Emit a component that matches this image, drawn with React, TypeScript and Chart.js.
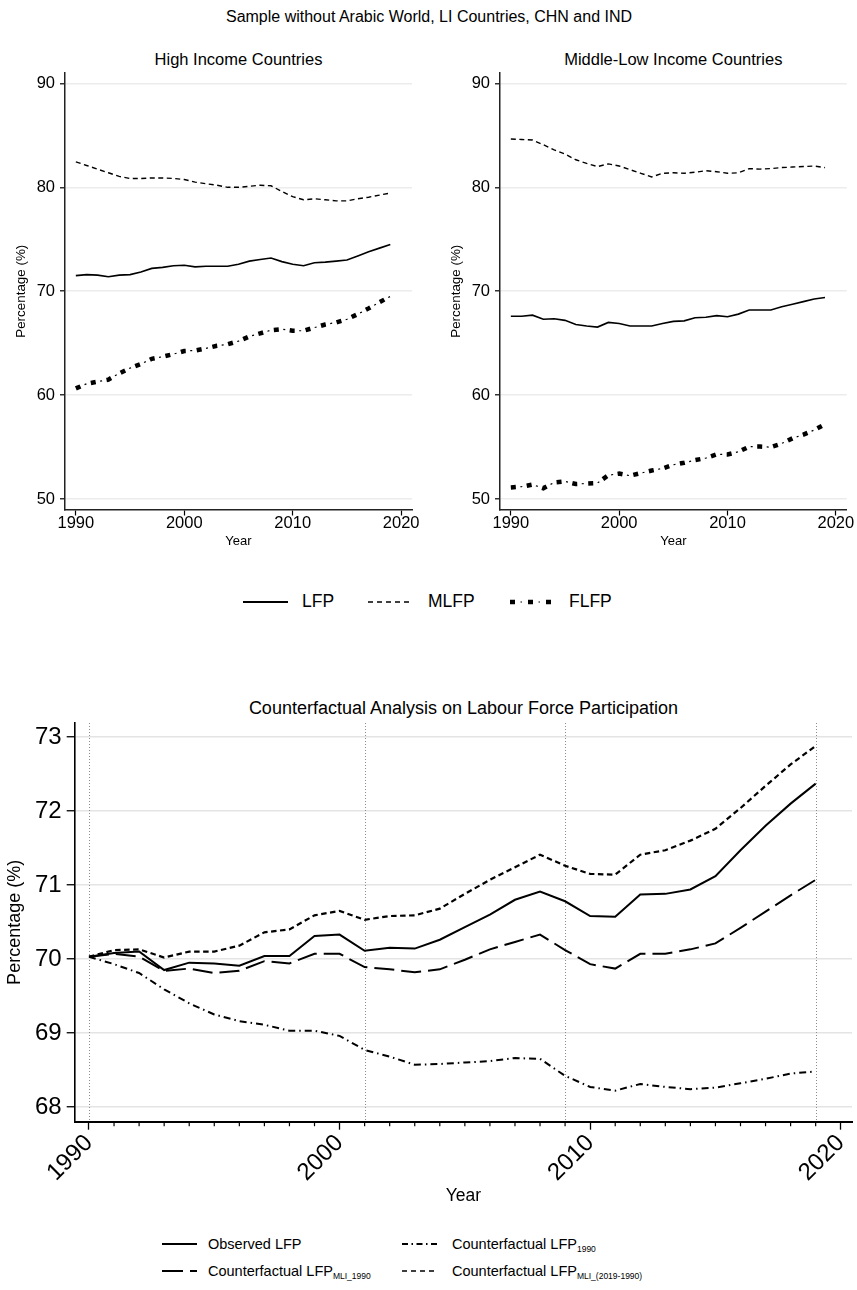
import React, { useEffect, useRef } from "react";
import { Chart, registerables } from "chart.js";
Chart.register(...registerables);

const FONT = "'Liberation Sans', Arial, Helvetica, sans-serif";

const years = [1990, 1991, 1992, 1993, 1994, 1995, 1996, 1997, 1998, 1999, 2000, 2001, 2002, 2003, 2004, 2005, 2006, 2007, 2008, 2009, 2010, 2011, 2012, 2013, 2014, 2015, 2016, 2017, 2018, 2019];

// High income countries
const hicLFP = [71.5, 71.6, 71.55, 71.4, 71.55, 71.6, 71.85, 72.2, 72.3, 72.45, 72.5, 72.35, 72.4, 72.4, 72.4, 72.6, 72.9, 73.05, 73.2, 72.85, 72.6, 72.45, 72.75, 72.8, 72.9, 73.0, 73.4, 73.8, 74.15, 74.5];
const hicMLFP = [82.45, 82.1, 81.75, 81.4, 81.05, 80.85, 80.85, 80.9, 80.9, 80.85, 80.75, 80.5, 80.35, 80.2, 80.0, 80.0, 80.1, 80.2, 80.15, 79.6, 79.1, 78.8, 78.9, 78.8, 78.7, 78.7, 78.9, 79.05, 79.25, 79.45];
const hicFLFP = [60.65, 61.1, 61.3, 61.5, 62.1, 62.6, 63.0, 63.5, 63.7, 63.95, 64.25, 64.3, 64.5, 64.75, 64.9, 65.2, 65.65, 65.95, 66.25, 66.35, 66.2, 66.2, 66.5, 66.8, 67.0, 67.3, 67.8, 68.35, 68.95, 69.5];

// Middle-low income countries
const mlicLFP = [67.6, 67.6, 67.7, 67.3, 67.35, 67.2, 66.8, 66.65, 66.55, 67.0, 66.9, 66.65, 66.65, 66.65, 66.9, 67.1, 67.15, 67.45, 67.5, 67.65, 67.55, 67.8, 68.2, 68.2, 68.2, 68.5, 68.75, 69.0, 69.25, 69.4];
const mlicMLFP = [84.65, 84.6, 84.55, 84.1, 83.6, 83.2, 82.65, 82.3, 82.0, 82.25, 82.05, 81.7, 81.35, 81.0, 81.35, 81.4, 81.35, 81.45, 81.6, 81.5, 81.35, 81.4, 81.8, 81.75, 81.8, 81.9, 81.95, 82.0, 82.05, 81.9];
const mlicFLFP = [51.12, 51.2, 51.4, 51.05, 51.6, 51.7, 51.45, 51.5, 51.55, 52.3, 52.45, 52.25, 52.5, 52.75, 52.95, 53.3, 53.5, 53.75, 53.95, 54.3, 54.3, 54.55, 55.05, 55.05, 55.0, 55.35, 55.85, 56.2, 56.65, 57.2];

// Counterfactual analysis
const observedLFP = [70.03, 70.08, 70.1, 69.85, 69.95, 69.94, 69.91, 70.04, 70.04, 70.31, 70.33, 70.11, 70.15, 70.14, 70.26, 70.43, 70.6, 70.8, 70.91, 70.78, 70.58, 70.57, 70.87, 70.88, 70.94, 71.12, 71.47, 71.8, 72.1, 72.37];
const cfLFP1990 = [70.03, 69.93, 69.81, 69.59, 69.4, 69.25, 69.16, 69.11, 69.03, 69.03, 68.96, 68.77, 68.68, 68.57, 68.58, 68.6, 68.62, 68.66, 68.65, 68.42, 68.27, 68.22, 68.31, 68.27, 68.24, 68.26, 68.32, 68.38, 68.45, 68.48];
const cfMLI1990 = [70.03, 70.07, 70.03, 69.84, 69.87, 69.81, 69.84, 69.97, 69.94, 70.07, 70.07, 69.89, 69.86, 69.82, 69.86, 69.99, 70.13, 70.23, 70.33, 70.12, 69.93, 69.87, 70.07, 70.07, 70.13, 70.21, 70.42, 70.64, 70.86, 71.07];
const cfMLIRange = [70.03, 70.12, 70.13, 70.02, 70.1, 70.1, 70.18, 70.36, 70.4, 70.59, 70.65, 70.53, 70.58, 70.59, 70.68, 70.88, 71.07, 71.24, 71.41, 71.26, 71.15, 71.14, 71.41, 71.47, 71.6, 71.76, 72.04, 72.34, 72.63, 72.88];

const topXTicks = [1990, 2000, 2010, 2020];
const topYTicks = [50, 60, 70, 80, 90];
const bottomXTicks = [1990, 1991, 1992, 1993, 1994, 1995, 1996, 1997, 1998, 1999, 2000, 2001, 2002, 2003, 2004, 2005, 2006, 2007, 2008, 2009, 2010, 2011, 2012, 2013, 2014, 2015, 2016, 2017, 2018, 2019, 2020];
const bottomYTicks = [68, 69, 70, 71, 72, 73];
const markerYears = [1990, 2001, 2009, 2019];

const pts = (vals: number[]) => years.map((x, i) => ({ x, y: vals[i] }));

const lineDs = (vals: number[], width: number, dash: number[], offset = 0) => ({
  data: pts(vals),
  borderColor: "#000",
  backgroundColor: "#000",
  borderWidth: width,
  borderDash: dash,
  borderDashOffset: offset,
  pointRadius: 0,
  tension: 0,
  fill: false,
});

const noPad = (s: any) => {
  s.paddingTop = 0;
  s.paddingBottom = 0;
  s.paddingLeft = 0;
  s.paddingRight = 0;
};

function Panel(props: { left: number; top: number; width: number; height: number; padRight: number; lfp: number[]; mlfp: number[]; flfp: number[] }) {
  const ref = useRef<HTMLCanvasElement>(null);
  useEffect(() => {
    const chart = new Chart(ref.current as HTMLCanvasElement, {
      type: "line",
      data: {
        datasets: [
          lineDs(props.lfp, 1.6, []),
          lineDs(props.mlfp, 1.4, [5, 3.5]),
          lineDs(props.flfp, 4.5, [5, 11]),
          lineDs(props.flfp, 1.2, [2, 14], 6.5),
        ] as any,
      },
      options: {
        responsive: false,
        animation: false,
        devicePixelRatio: 1,
        layout: { padding: { left: 0, top: 13, right: props.padRight, bottom: 0 } },
        plugins: { legend: { display: false }, tooltip: { enabled: false }, title: { display: false } },
        scales: {
          x: {
            type: "linear",
            min: 1989,
            max: 2021,
            afterBuildTicks: (s: any) => { s.ticks = topXTicks.map((v) => ({ value: v })); },
            afterFit: (s: any) => { s.height = 40.5; noPad(s); },
            grid: { drawOnChartArea: false, tickLength: 6, tickColor: "#000", tickWidth: 1.2 },
            border: { color: "#222", width: 1.5 },
            ticks: { autoSkip: false, maxRotation: 0, minRotation: 0, padding: 0, color: "#000", font: { family: FONT, size: 16.5, lineHeight: 1 }, callback: (v: any) => String(v) },
            title: { display: true, text: "Year", color: "#000", font: { family: FONT, size: 13 }, padding: { top: 0, bottom: 1.2 } },
          },
          y: {
            type: "linear",
            min: 49,
            max: 91,
            afterBuildTicks: (s: any) => { s.ticks = topYTicks.map((v) => ({ value: v })); },
            afterFit: (s: any) => { s.width = 65; noPad(s); },
            grid: { color: "#ececec", lineWidth: 1.6, tickLength: 5, tickColor: "#000", tickWidth: 1.2 },
            border: { color: "#222", width: 1.5 },
            ticks: { padding: 5, color: "#000", font: { family: FONT, size: 16.5, lineHeight: 1 }, callback: (v: any) => String(v) },
            title: { display: true, text: "Percentage (%)", color: "#000", font: { family: FONT, size: 13.4 }, padding: { top: 13.5, bottom: 0 } },
          },
        },
      } as any,
    });
    return () => chart.destroy();
  }, []);
  return <canvas ref={ref} width={props.width} height={props.height} style={{ position: "absolute", left: props.left, top: props.top, width: props.width, height: props.height }} />;
}

const decorPlugin = {
  id: "decor",
  beforeDatasetsDraw(chart: any) {
    const { ctx, chartArea } = chart;
    const x = chart.scales.x;
    ctx.save();
    ctx.strokeStyle = "#8c8c8c";
    ctx.lineWidth = 1;
    ctx.setLineDash([1, 2]);
    ctx.beginPath();
    for (const yr of markerYears) {
      const px = Math.round(x.getPixelForValue(yr)) + 0.5;
      ctx.moveTo(px, chartArea.top);
      ctx.lineTo(px, chartArea.bottom);
    }
    ctx.stroke();
    ctx.restore();
  },
  afterDraw(chart: any) {
    const { ctx } = chart;
    const x = chart.scales.x;
    ctx.save();
    ctx.strokeStyle = "#000";
    ctx.lineWidth = 1.2;
    ctx.beginPath();
    for (const t of x.ticks) {
      if (t.value % 10 === 0) continue;
      const px = x.getPixelForValue(t.value);
      ctx.moveTo(px, x.top);
      ctx.lineTo(px, x.top + 4.5);
    }
    ctx.stroke();
    ctx.restore();
  },
};

function Counterfactual() {
  const ref = useRef<HTMLCanvasElement>(null);
  useEffect(() => {
    const chart = new Chart(ref.current as HTMLCanvasElement, {
      type: "line",
      data: {
        datasets: [
          lineDs(cfLFP1990, 2, [7, 4, 1.5, 4]),
          lineDs(cfMLI1990, 2, [20, 7]),
          lineDs(cfMLIRange, 2.2, [5.5, 3.5]),
          lineDs(observedLFP, 2, []),
        ] as any,
      },
      options: {
        responsive: false,
        animation: false,
        devicePixelRatio: 1,
        layout: { padding: { left: 0, top: 8, right: 5, bottom: 0 } },
        plugins: { legend: { display: false }, tooltip: { enabled: false }, title: { display: false } },
        scales: {
          x: {
            type: "linear",
            min: 1989.43,
            max: 2020.45,
            afterBuildTicks: (s: any) => { s.ticks = bottomXTicks.map((v) => ({ value: v })); },
            afterFit: (s: any) => { s.height = 88.3; noPad(s); },
            grid: {
              drawOnChartArea: false,
              tickLength: 8,
              tickWidth: 1.3,
              tickColor: (c: any) => (c.tick && c.tick.value % 10 === 0 ? "#000" : "rgba(0,0,0,0)"),
            },
            border: { color: "#000", width: 2 },
            ticks: {
              autoSkip: false,
              maxRotation: 45,
              minRotation: 45,
              padding: 1,
              color: "#000",
              font: { family: FONT, size: 24, lineHeight: 1 },
              callback: (v: any) => (Number(v) % 10 === 0 ? String(v) : ""),
            },
            title: { display: true, text: "Year", color: "#000", font: { family: FONT, size: 17.5 }, padding: { top: 0, bottom: 3.5 } },
          },
          y: {
            type: "linear",
            min: 67.8,
            max: 73.19,
            afterBuildTicks: (s: any) => { s.ticks = bottomYTicks.map((v) => ({ value: v })); },
            afterFit: (s: any) => { s.width = 74.7; noPad(s); },
            grid: { color: "#e4e4e4", lineWidth: 1.5, tickLength: 8, tickColor: "#000", tickWidth: 1.3 },
            border: { color: "#000", width: 1.6 },
            ticks: { padding: 5, color: "#000", font: { family: FONT, size: 24, lineHeight: 1 }, callback: (v: any) => String(v) },
            title: { display: true, text: "Percentage (%)", color: "#000", font: { family: FONT, size: 18 }, padding: { top: 4.2, bottom: 0 } },
          },
        },
      } as any,
      plugins: [decorPlugin as any],
    });
    return () => chart.destroy();
  }, []);
  return <canvas ref={ref} width={857} height={495} style={{ position: "absolute", left: 0, top: 715, width: 857, height: 495 }} />;
}

function Txt(props: { x: number; y: number; size: number; center?: boolean; children: any }) {
  return (
    <div
      style={{
        position: "absolute",
        left: props.x,
        top: props.y - props.size / 2,
        fontSize: props.size,
        lineHeight: props.size + "px",
        fontFamily: FONT,
        color: "#000",
        whiteSpace: "nowrap",
        transform: props.center ? "translateX(-50%)" : undefined,
      }}
    >
      {props.children}
    </div>
  );
}

function Sample(props: { x: number; y: number; w: number; kind: string }) {
  const { x, y, w, kind } = props;
  const lines: any[] = [];
  const ln = (sw: number, dash?: string, off?: number, key?: string) => (
    <line key={key} x1={0} y1={8} x2={w} y2={8} stroke="#000" strokeWidth={sw} strokeDasharray={dash} strokeDashoffset={off} />
  );
  if (kind === "solid") lines.push(ln(2, undefined, undefined, "a"));
  if (kind === "short") lines.push(ln(1.6, "5 4", undefined, "a"));
  if (kind === "long") lines.push(ln(2, "21 7", undefined, "a"));
  if (kind === "dashdot") lines.push(ln(1.8, "6 3.5 1.5 3.5", undefined, "a"));
  if (kind === "flfp") {
    lines.push(ln(4.5, "5 13", undefined, "a"));
    lines.push(ln(1.2, "1.5 16.5", 7.5, "b"));
  }
  return (
    <svg width={w} height={16} style={{ position: "absolute", left: x, top: y - 8 }}>
      {lines}
    </svg>
  );
}

const subStyle = { fontSize: 8.5, verticalAlign: "-3px", lineHeight: "8px" };

export default function App() {
  return (
    <div style={{ position: "absolute", left: 0, top: 0, width: 857, height: 1290, background: "#fff", overflow: "hidden" }}>
      <Txt x={429} y={17} size={16} center>Sample without Arabic World, LI Countries, CHN and IND</Txt>
      <Txt x={238.5} y={59} size={16.5} center>High Income Countries</Txt>
      <Txt x={673.3} y={59} size={16.5} center>Middle-Low Income Countries</Txt>
      <Panel left={0} top={60} width={425} height={490} padRight={13} lfp={hicLFP} mlfp={hicMLFP} flfp={hicFLFP} />
      <Panel left={435} top={60} width={422} height={490} padRight={10.3} lfp={mlicLFP} mlfp={mlicMLFP} flfp={mlicFLFP} />

      <Sample x={243} y={602} w={45} kind="solid" />
      <Txt x={302} y={602} size={17.5}>LFP</Txt>
      <Sample x={368} y={602} w={45} kind="short" />
      <Txt x={428} y={602} size={17.5}>MLFP</Txt>
      <Sample x={510} y={602} w={44} kind="flfp" />
      <Txt x={569} y={602} size={17.5}>FLFP</Txt>

      <Txt x={463.5} y={708} size={18} center>Counterfactual Analysis on Labour Force Participation</Txt>
      <Counterfactual />

      <Sample x={162} y={1244} w={35} kind="solid" />
      <Txt x={208} y={1244} size={14.5}>Observed LFP</Txt>
      <Sample x={402} y={1244} w={35} kind="dashdot" />
      <Txt x={452} y={1244} size={14.5}>Counterfactual LFP<span style={subStyle}>1990</span></Txt>
      <Sample x={162} y={1271} w={35} kind="long" />
      <Txt x={208} y={1271} size={14.5}>Counterfactual LFP<span style={subStyle}>MLI_1990</span></Txt>
      <Sample x={402} y={1271} w={35} kind="short" />
      <Txt x={452} y={1271} size={14.5}>Counterfactual LFP<span style={subStyle}>MLI_(2019-1990)</span></Txt>
    </div>
  );
}
